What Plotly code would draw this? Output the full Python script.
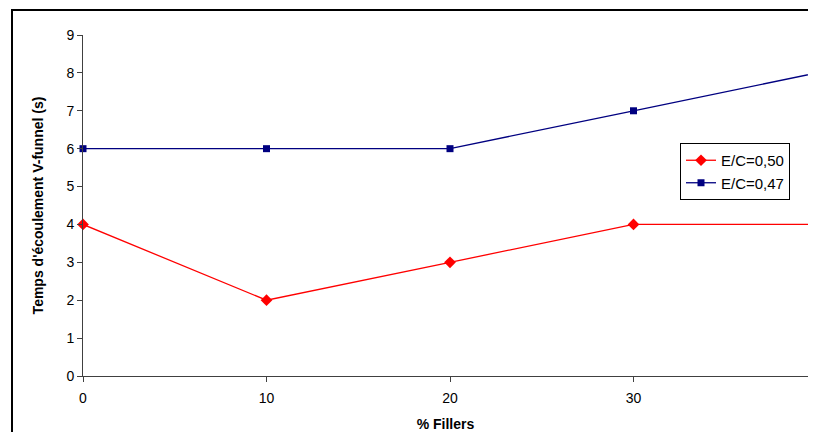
import plotly.graph_objects as go

fillers = [0, 10, 20, 30, 40]
ec050 = [4, 2, 3, 4, 4]
ec047 = [6, 6, 6, 7, 8]
y_ticks = [0, 1, 2, 3, 4, 5, 6, 7, 8, 9]
x_ticks = [0, 10, 20, 30, 40]

FONT = "Liberation Sans, Arial, sans-serif"

fig = go.Figure()
fig.add_trace(go.Scatter(
    x=fillers, y=ec050, name="E/C=0,50", mode="lines+markers",
    line=dict(color="#FF0000", width=1.3),
    marker=dict(symbol="diamond", size=9, color="#FF0000"),
    cliponaxis=False,
))
fig.add_trace(go.Scatter(
    x=fillers, y=ec047, name="E/C=0,47", mode="lines+markers",
    line=dict(color="#000080", width=1.3),
    marker=dict(symbol="square", size=7, color="#000080"),
    cliponaxis=False,
))

# page has an 8px body margin; figure coordinates = page coordinates - 8
W, H = 800, 424
L, R, T, B = 75, 0, 27, 56
pw, ph = W - L - R, H - T - B
x_end = 40 * pw / (809 - L)   # keep reference scale (40 sits at page x 817)

def px2x(px):
    return (px - L) / pw

def px2y(py):
    return (H - B - py) / ph

# outer chart border (top and left edges only; the rest is cropped in the reference)
fig.add_shape(type="line", xref="paper", yref="paper",
              x0=px2x(3), x1=px2x(W + 5), y0=px2y(2), y1=px2y(2),
              line=dict(color="black", width=2))
fig.add_shape(type="line", xref="paper", yref="paper",
              x0=px2x(4), x1=px2x(4), y0=px2y(1), y1=px2y(H + 5),
              line=dict(color="black", width=2))

fig.update_layout(
    width=W, height=H,
    margin=dict(l=L, r=R, t=T, b=B, pad=0),
    paper_bgcolor="white", plot_bgcolor="white",
    font=dict(family=FONT, size=14, color="black"),
    showlegend=True,
    legend=dict(
        x=px2x(672), y=px2y(135), xanchor="left", yanchor="top",
        bordercolor="black", borderwidth=1, bgcolor="white",
        font=dict(size=15), tracegroupgap=0,
    ),
    xaxis=dict(
        range=[0, x_end], tickvals=x_ticks, ticktext=[str(v) for v in x_ticks],
        showgrid=False, zeroline=False, showline=True, linecolor="#404040", linewidth=1,
        ticks="outside", ticklen=5, tickcolor="#404040", ticklabelstandoff=4,
        title=dict(text="<b>% Fillers</b>", font=dict(size=14), standoff=15),
    ),
    yaxis=dict(
        range=[0, 9], tickvals=y_ticks,
        showgrid=False, zeroline=False, showline=True, linecolor="#404040", linewidth=1,
        ticks="outside", ticklen=5, tickcolor="#404040",
        title=dict(text="<b>Temps d'écoulement V-funnel (s)</b>", font=dict(size=14), standoff=19),
    ),
)

fig.write_html("out.html")
